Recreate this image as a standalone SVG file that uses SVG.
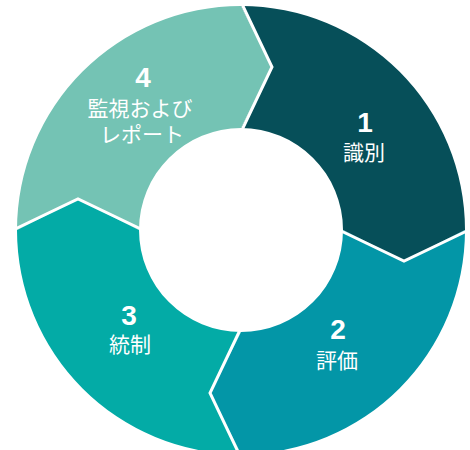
<svg xmlns="http://www.w3.org/2000/svg" width="470" height="450" viewBox="0 0 470 450">
<style>
.num{font-family:"Liberation Sans",Arial,sans-serif;font-weight:bold;font-size:28px;fill:#fff;text-anchor:middle}
.lbl{font-family:"Noto Sans CJK JP","Noto Sans",sans-serif;font-size:21px;fill:#fff;text-anchor:middle}
.sep{fill:none;stroke:#fff;stroke-width:3;stroke-linejoin:miter}
</style>
<rect width="470" height="450" fill="#fff"/>
<g id="step1">
<path d="M241,6 A224,224 0 0 1 465,230 L404,261 L343,230 A102,102 0 0 0 241,128 L272,67 Z" fill="#064F59"/>
<text class="num" x="365" y="132">1</text>
<text class="lbl" x="364" y="160">識別</text>
</g>
<g id="step2">
<path d="M465,230 A224,224 0 0 1 241,454 L210,393 L241,332 A102,102 0 0 0 343,230 L404,261 Z" fill="#0396A7"/>
<text class="num" x="338" y="339">2</text>
<text class="lbl" x="337" y="368">評価</text>
</g>
<g id="step3">
<path d="M241,454 A224,224 0 0 1 17,230 L78,199 L139,230 A102,102 0 0 0 241,332 L210,393 Z" fill="#03ABA6"/>
<text class="num" x="129" y="325">3</text>
<text class="lbl" x="130" y="352">統制</text>
</g>
<g id="step4">
<path d="M17,230 A224,224 0 0 1 241,6 L272,67 L241,128 A102,102 0 0 0 139,230 L78,199 Z" fill="#74C3B4"/>
<text class="num" x="143" y="87">4</text>
<text class="lbl" x="140" y="116">監視および</text>
<text class="lbl" x="142" y="142">レポート</text>
</g>
<g id="connectors">
<polyline class="sep" points="241,2 272,67 241,132"/>
<polyline class="sep" points="469,230 404,261 339,230"/>
<polyline class="sep" points="241,458 210,393 241,328"/>
<polyline class="sep" points="13,230 78,199 143,230"/>
</g>
</svg>
